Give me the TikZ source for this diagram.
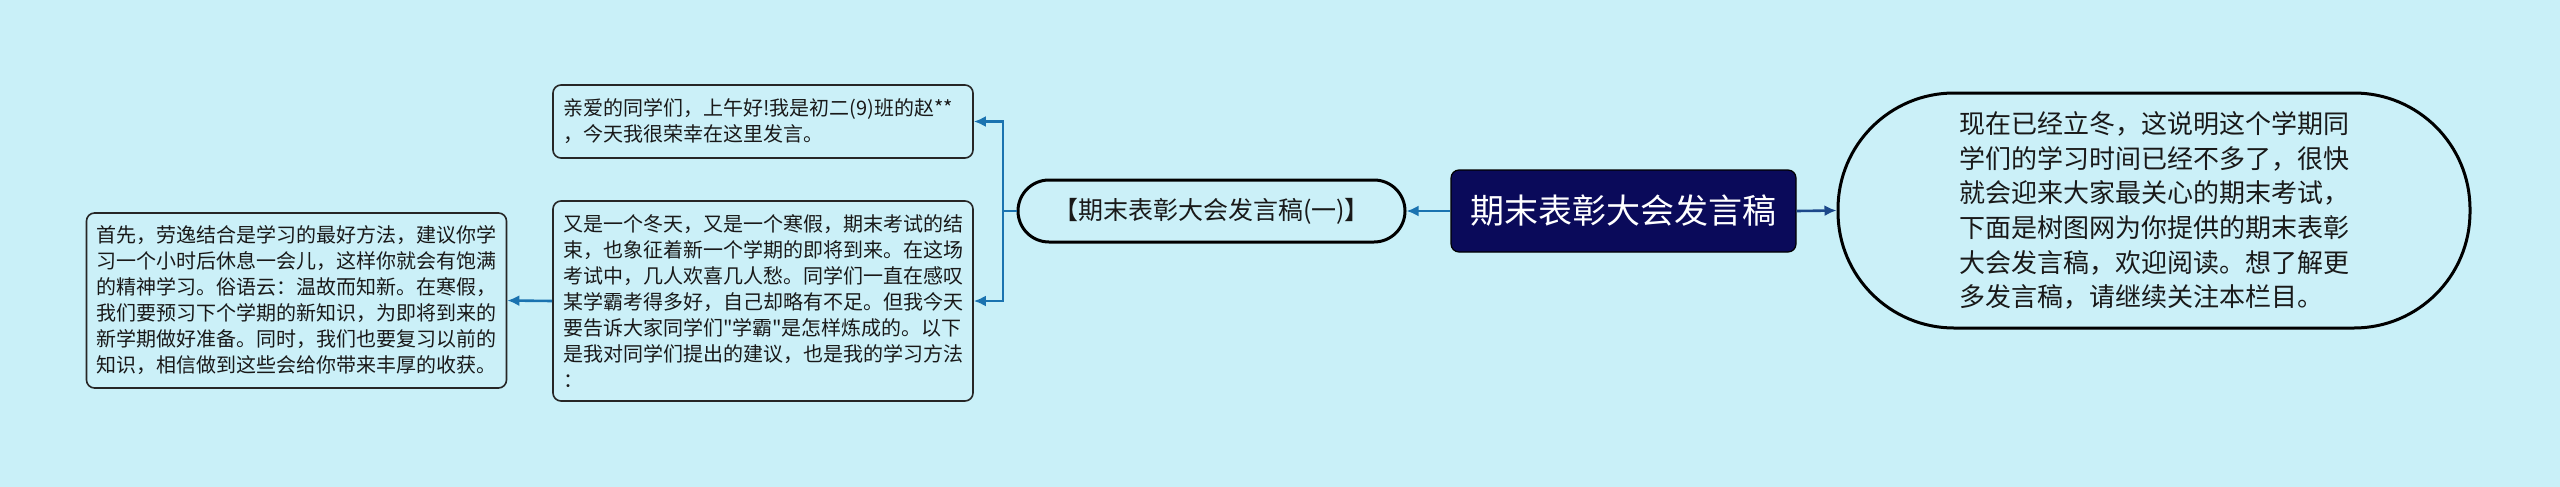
\documentclass[tikz,border=0pt]{standalone}
\usepackage{fontspec}
\newfontfamily\zhfont{Noto Sans CJK SC}
\usetikzlibrary{arrows.meta}
\definecolor{bgcol}{RGB}{201,240,248}
\definecolor{leafcol}{RGB}{203,240,248}
\definecolor{rootcol}{RGB}{10,10,90}
\definecolor{linkcol}{RGB}{26,115,176}
\definecolor{rootlink}{RGB}{28,72,138}
\tikzset{
  leaf/.style={draw=black!85, line width=0.8pt, fill=leafcol, rounded corners=4pt,
    align=left, text width=200pt, inner xsep=5pt, minimum width=210pt,
    font=\zhfont\fontsize{10}{13}\selectfont, text=black!90},
  link/.style={draw=linkcol, line width=1.3pt},
  tip/.style={-{Latex[length=6pt,width=5.5pt]}}
}
\begin{document}
\begin{tikzpicture}[x=0.5pt, y=-0.5pt]
    \useasboundingbox (0,0) rectangle (2560,487);
    \fill[bgcol] (0,0) rectangle (2560,487);
    \node[draw=black, line width=0.6pt, fill=rootcol, rounded corners=4pt, minimum width=172.5pt,
          minimum height=41pt, text=white, font=\zhfont\fontsize{17}{20}\selectfont] (root) at (1623.5,211) {期末表彰大会发言稿};
    \node[draw=black, line width=1.5pt, fill=leafcol, rounded corners=58pt, minimum width=316pt,
          minimum height=117.5pt, align=left, text width=195pt, text=black!90,
          font=\zhfont\fontsize{13}{17.35}\selectfont] (intro) at (2154,210.5)
          {现在已经立冬，这说明这个学期同\\学们的学习时间已经不多了，很快\\就会迎来大家最关心的期末考试，\\下面是树图网为你提供的期末表彰\\大会发言稿，欢迎阅读。想了解更\\多发言稿，请继续关注本栏目。};
    \node[draw=black, line width=1.5pt, fill=leafcol, rounded corners=15.5pt, minimum width=193.5pt,
          minimum height=31pt, text=black!90, font=\zhfont\fontsize{12.5}{15}\selectfont] (part) at (1211.5,211)
          {【期末表彰大会发言稿(一)】};
    \node[leaf, minimum height=36.5pt] (greet) at (763,121.5)
          {亲爱的同学们，上午好!我是初二(9)班的赵**\\，今天我很荣幸在这里发言。};
    \node[leaf, minimum height=100pt] (exam) at (763,301)
          {又是一个冬天，又是一个寒假，期末考试的结\\束，也象征着新一个学期的即将到来。在这场\\考试中，几人欢喜几人愁。同学们一直在感叹\\某学霸考得多好，自己却略有不足。但我今天\\要告诉大家同学们"学霸"是怎样炼成的。以下\\是我对同学们提出的建议，也是我的学习方法\\：};
    \node[leaf, minimum height=87.5pt] (advice) at (296.5,300.5)
          {首先，劳逸结合是学习的最好方法，建议你学\\习一个小时后休息一会儿，这样你就会有饱满\\的精神学习。俗语云：温故而知新。在寒假，\\我们要预习下个学期的新知识，为即将到来的\\新学期做好准备。同时，我们也要复习以前的\\知识，相信做到这些会给你带来丰厚的收获。};
    \coordinate (fork) at (1003,211);
    \draw[link, draw=rootlink, tip] (root.east) -- (intro.west);
    \draw[link, tip] (root.west) -- (part.east);
    \draw[link] (part.west) -- (fork);
    \draw[link, tip] (fork) |- (greet.east);
    \draw[link, tip] (fork) |- (exam.east);
    \draw[link, tip] (exam.west) -- (advice.east);
\end{tikzpicture}
\end{document}
